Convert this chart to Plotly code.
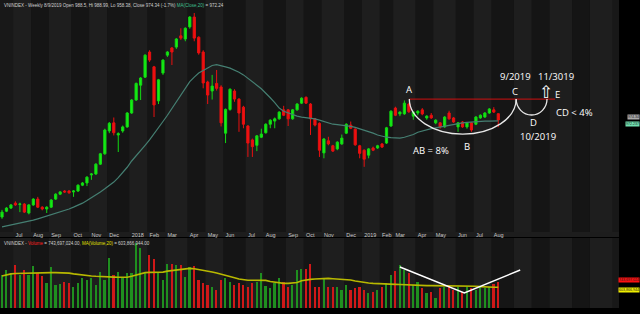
import pandas as pd
import plotly.graph_objects as go

# ---------------- data ----------------
dates = [d for d in pd.date_range("2017-06-16", "2019-08-09", freq="W-FRI")
         if d != pd.Timestamp("2019-02-08")]

open_ = [758, 771, 778, 789, 786, 787, 767, 785, 798, 780, 776, 780, 798, 809, 816, 816, 814, 816, 829, 834,
         852, 854, 876, 899, 950, 968, 941, 950, 959, 990, 1019, 1052, 1070, 1126, 1093, 1017, 1079, 1119, 1135, 1137,
         1162, 1155, 1182, 1204, 1159, 1126, 1059, 1039, 1056, 1048, 945, 998, 1039, 1021, 1003, 961, 930, 918, 936, 946,
         965, 972, 977, 997, 997, 977, 997, 1012, 1025, 1010, 977, 967, 901, 928, 917, 910, 921, 945, 963, 954,
         917, 907, 896, 912, 912, 921, 923, 961, 1001, 988, 988, 1010, 983, 990, 997, 979, 985, 968, 968, 959,
         990, 979, 959, 970, 959, 968, 965, 979, 981, 990, 997, 988.5]
high = [774, 780, 787, 793, 790, 789, 787, 800, 803, 782, 782, 798, 811, 816, 818, 818, 818, 831, 836, 849,
        856, 878, 901, 955, 970, 980, 947, 962, 992, 1021, 1058, 1070, 1121, 1130, 1095, 1066, 1110, 1128, 1137, 1157,
        1179, 1181, 1206, 1213, 1161, 1130, 1062, 1075, 1086, 1052, 1000, 1045, 1043, 1023, 1006, 963, 933, 941, 955, 967,
        976, 980, 994, 1006, 999, 999, 1012, 1025, 1027, 1012, 979, 969, 934, 937, 919, 927, 942, 967, 971, 956,
        919, 909, 912, 915, 919, 923, 959, 996, 1004, 994, 1018, 1012, 994, 996, 1001, 985, 990, 976, 970, 983,
        995, 981, 970, 972, 970, 970, 983, 987, 992, 1001, 1003, 988.99]
low = [754, 769, 776, 783, 769, 767, 764, 783, 778, 773, 767, 778, 796, 807, 812, 810, 803, 814, 827, 827,
       841, 852, 874, 897, 945, 940, 903, 946, 957, 988, 1017, 1019, 1068, 1104, 981, 1010, 1075, 1115, 1097, 1133,
       1153, 1150, 1178, 1150, 1120, 1045, 1010, 1020, 1040, 960, 923, 995, 1015, 948, 956, 892, 892, 905, 934, 944,
       956, 956, 975, 983, 961, 975, 995, 1010, 1010, 941, 960, 892, 889, 918, 903, 907, 919, 943, 954, 917,
       889, 870, 889, 905, 910, 912, 921, 959, 983, 983, 986, 990, 975, 985, 985, 975, 977, 965, 955, 957,
       975, 968, 948, 957, 955, 948, 963, 977, 979, 988, 990, 958.38]
close = [769, 778, 785, 785, 787, 769, 785, 798, 780, 776, 780, 796, 809, 814, 814, 812, 816, 829, 834, 847,
         854, 876, 899, 952, 967, 946, 944, 959, 990, 1019, 1056, 1068, 1119, 1108, 1008, 1064, 1108, 1126, 1126, 1155,
         1157, 1179, 1204, 1157, 1124, 1057, 1030, 1050, 1045, 968, 998, 1043, 1021, 990, 965, 923, 915, 939, 943, 965,
         974, 977, 992, 985, 977, 997, 1010, 1023, 1012, 977, 963, 907, 932, 921, 905, 925, 934, 965, 956, 919,
         900, 887, 910, 907, 917, 914, 957, 994, 985, 992, 1012, 993, 992, 994, 988, 983, 979, 974, 959, 981,
         977, 970, 968, 959, 968, 952, 981, 985, 990, 999, 992, 974.34]
ma_close = [736, 738, 740, 742, 744, 746, 749, 751, 754, 757, 760, 763, 766, 769, 772, 776, 780, 784, 789, 795,
            801, 807, 814, 821, 828, 836, 846, 857, 869, 883, 894, 905, 918, 930, 943, 957, 971, 985, 1000, 1015,
            1030, 1045, 1060, 1070, 1079, 1085, 1091, 1096, 1098, 1096, 1093, 1090, 1086, 1081, 1075, 1068, 1060, 1052, 1044, 1035,
            1024, 1013, 1001, 994, 990, 986, 983, 981, 980, 979, 977, 974, 971, 968, 965, 964, 963, 962, 960, 958,
            955, 952, 948, 945, 941, 938, 936, 935, 934, 934, 936, 939, 942, 947, 950, 952, 955, 957, 959, 961,
            963, 965, 967, 968, 969, 970, 971, 972, 972, 972, 972, 972.24]
volume_m = [957, 1102, 1025, 1247, 957, 1102, 957, 1228, 1005, 928, 715, 1199, 667, 686, 764, 715, 619, 715, 880, 812,
            860, 667, 1034, 812, 1440, 957, 1054, 909, 1005, 1005, 1875, 1730, 1005, 1537, 1421, 1054, 812, 1276, 1276, 1247,
            1247, 909, 1199, 1218, 812, 715, 667, 619, 522, 812, 860, 764, 667, 715, 667, 619, 715, 764, 1005, 638,
            570, 715, 860, 764, 619, 667, 1102, 1122, 1122, 1276, 619, 619, 831, 619, 619, 619, 522, 667, 522, 570,
            619, 522, 425, 474, 522, 619, 715, 957, 1083, 1247, 1102, 1005, 667, 764, 570, 425, 474, 280, 570, 619,
            667, 522, 619, 474, 619, 570, 522, 638, 570, 619, 696, 743.697]
ma_volume_m = [928, 960, 990, 1000, 1005, 1010, 1015, 1020, 1022, 1025, 1025, 1025, 1025, 1025, 1025, 1010, 990, 970, 957, 945,
               930, 920, 909, 905, 900, 895, 890, 888, 890, 920, 960, 1000, 1025, 1034, 1034, 1034, 1040, 1070, 1090, 1102,
               1120, 1140, 1150, 1140, 1120, 1102, 1075, 1045, 1015, 985, 957, 920, 880, 840, 812, 805, 805, 810, 812, 800,
               770, 745, 725, 715, 715, 720, 740, 790, 820, 831, 840, 850, 860, 858, 850, 845, 835, 831, 810, 785,
               760, 735, 725, 715, 705, 700, 696, 690, 685, 680, 672, 667, 662, 658, 652, 648, 648, 648, 648, 648,
               648, 648, 648, 648, 648, 640, 630, 620, 610, 600, 602, 603.867]

# drawn analysis marks (bar index, price / volume in millions)
level_A = 1021
arc_big = dict(x0=91.1, x1=115.0, bottom=943)
arc_small = dict(x0=115.0, x1=121.9, bottom=985.5)
red_line_end = 123.7
vol_lines_x = [89.0, 103.4, 115.9]
vol_lines_y = [1189, 435, 1102]
labels = [("A", 91.1, 1043.5), ("9/2019", 114.8, 1072.5), ("11/3019", 123.8, 1070.5), ("C", 114.8, 1039),
          ("E", 124.2, 1031), ("CD < 4%", 128.0, 990.7), ("D", 118.9, 968.5), ("10/2019", 119.9, 938.7),
          ("AB = 8%", 96.0, 906), ("B", 104.0, 915)]

n = len(dates)
x = list(range(n))
up = [c >= o for o, c in zip(open_, close)]
volume = [v * 1e6 for v in volume_m]
ma_volume = [v * 1e6 for v in ma_volume_m]

# month blocks (data + future weeks)
future = list(pd.date_range("2019-08-16", "2020-02-28", freq="W-FRI"))
all_dates = dates + future
month_starts = []
for i, d in enumerate(all_dates):
    if i > 0 and d.month != all_dates[i - 1].month:
        month_starts.append((i, d))
tick_idx = [i for i, d in month_starts if i < n]
tick_txt = [(str(d.year) if d.month == 1 else d.strftime("%b")) for i, d in month_starts if i < n]

W, H = 640, 314
price_bottom_px, vol_top_px, vol_bottom_px = 232, 238, 308
fig = go.Figure()

fig.add_trace(go.Candlestick(
    x=x, open=open_, high=high, low=low, close=close,
    increasing=dict(line=dict(color="#12d812", width=1), fillcolor="#16f016"),
    decreasing=dict(line=dict(color="#e81010", width=1), fillcolor="#f01010"),
    whiskerwidth=0, xaxis="x", yaxis="y", showlegend=False, hoverinfo="skip"))
fig.add_trace(go.Scatter(x=x, y=ma_close, mode="lines", line=dict(color="#457f72", width=1.2),
                         xaxis="x", yaxis="y", showlegend=False, hoverinfo="skip"))
fig.add_trace(go.Bar(x=x, y=volume, width=0.38,
                     marker=dict(color=["#1f8f1f" if u else "#d01818" for u in up], line=dict(width=0)),
                     xaxis="x2", yaxis="y2", showlegend=False, hoverinfo="skip"))
fig.add_trace(go.Scatter(x=x, y=ma_volume, mode="lines", line=dict(color="#b8b800", width=1.6),
                         xaxis="x2", yaxis="y2", showlegend=False, hoverinfo="skip"))
fig.add_trace(go.Scatter(x=vol_lines_x, y=[v * 1e6 for v in vol_lines_y], mode="lines",
                         line=dict(color="#ffffff", width=1.5), xaxis="x2", yaxis="y2",
                         showlegend=False, hoverinfo="skip"))

shapes = []
blocks = [(month_starts[k][0], month_starts[k + 1][0]) for k in range(len(month_starts) - 1)]
for k, (s, e) in enumerate(blocks):
    col = "#1e1e1e" if k % 2 == 0 else "#151515"
    for yr in ("y domain", "y2 domain"):
        shapes.append(dict(type="rect", xref="x", yref=yr, x0=s - 0.5, x1=e - 0.5, y0=0, y1=1,
                           fillcolor=col, line=dict(width=0), layer="below"))
# axis label strip
shapes.append(dict(type="rect", xref="paper", yref="paper", x0=0, x1=619 / W,
                   y0=1 - 237 / H, y1=1 - price_bottom_px / H, fillcolor="#1d1d1d", line=dict(width=0), layer="below"))

def half_ellipse(x0, x1, ytop, ybot):
    k = 0.5523
    xc, rx, ry = (x0 + x1) / 2, (x1 - x0) / 2, ytop - ybot
    return (f"M {x0},{ytop} C {x0},{ytop - k * ry} {xc - k * rx},{ybot} {xc},{ybot} "
            f"C {xc + k * rx},{ybot} {x1},{ytop - k * ry} {x1},{ytop}")

shapes.append(dict(type="line", xref="x", yref="y", x0=arc_big["x0"], x1=red_line_end, y0=level_A, y1=level_A,
                   line=dict(color="#d01010", width=1)))
shapes.append(dict(type="path", xref="x", yref="y",
                   path=half_ellipse(arc_big["x0"], arc_big["x1"], level_A, arc_big["bottom"]),
                   line=dict(color="#e8e8e8", width=1.3)))
shapes.append(dict(type="path", xref="x", yref="y",
                   path=half_ellipse(arc_small["x0"], arc_small["x1"], level_A, arc_small["bottom"]),
                   line=dict(color="#e8e8e8", width=1.3)))

ann = []
for t, ax_, ay_ in labels:
    ann.append(dict(text=t, x=ax_, y=ay_, xref="x", yref="y", showarrow=False,
                    font=dict(color="#ffffff", size=9.5, family="Open Sans")))
ann.append(dict(text="⇧", x=121.6, y=1036, xref="x", yref="y", showarrow=False,
                font=dict(color="#ffffff", size=17, family="DejaVu Sans")))
ann.append(dict(text='VNINDEX - Weekly 8/9/2019 Open 988.5, Hi 988.99, Lo 958.38, Close 974.34 (-1.7%) '
                     '<span style="color:#3fbf8f">MA(Close,20)</span> = 972.24',
                x=2 / W, y=1 - 1 / H, xref="paper", yref="paper", xanchor="left", yanchor="top", showarrow=False,
                font=dict(color="#d0d0d0", size=4.5, family="Liberation Sans")))
ann.append(dict(text='VNINDEX - <span style="color:#ff2020">Volume</span> = 743,697,024.00, '
                     '<span style="color:#e0e000">MA(Volume,20)</span> = 603,866,944.00',
                x=2 / W, y=1 - 239 / H, xref="paper", yref="paper", xanchor="left", yanchor="top", showarrow=False,
                font=dict(color="#d0d0d0", size=4.5, family="Liberation Sans")))
for txt, yv, yr, bg, ys in [("974.34", close[-1], "y", "#a8a8a8", 3), ("972.237", ma_close[-1], "y", "#70e0b0", -3),
                            ("743,697,024", volume[-1], "y2", "#ff1010", 2),
                            ("603,866,944", ma_volume[-1], "y2", "#f0f000", -3)]:
    ann.append(dict(text=txt, x=1, y=yv, xref="paper", yref=yr, xanchor="right", yanchor="middle",
                    yshift=ys, showarrow=False, bgcolor=bg, borderpad=0,
                    font=dict(color="#202020", size=3.6, family="Liberation Sans")))

x_range = [-0.45, 138.0]
fig.update_layout(
    width=W, height=H, margin=dict(l=0, r=0, t=0, b=0),
    paper_bgcolor="#000000", plot_bgcolor="#181818",
    shapes=shapes, annotations=ann, bargap=0,
    xaxis=dict(domain=[0, 619 / W], range=x_range, rangeslider=dict(visible=False), showgrid=False,
               zeroline=False, tickvals=tick_idx, ticktext=tick_txt, ticks="", tickangle=0,
               ticklabelposition="outside right", ticklabelstandoff=-2,
               tickfont=dict(color="#c8c8c8", size=5.5, family="Liberation Sans"), anchor="y", ticklen=0),
    yaxis=dict(domain=[1 - price_bottom_px / H, 1], range=[1242 - price_bottom_px * 2.23, 1242],
               showgrid=False, zeroline=False, showticklabels=False, anchor="x"),
    xaxis2=dict(domain=[0, 619 / W], range=x_range, showgrid=False, zeroline=False, showticklabels=False,
                anchor="y2", matches="x"),
    yaxis2=dict(domain=[1 - vol_bottom_px / H, 1 - vol_top_px / H], range=[0, 70 * 29e6],
                showgrid=False, zeroline=False, showticklabels=False, anchor="x2"),
)

fig.write_html("out.html")
